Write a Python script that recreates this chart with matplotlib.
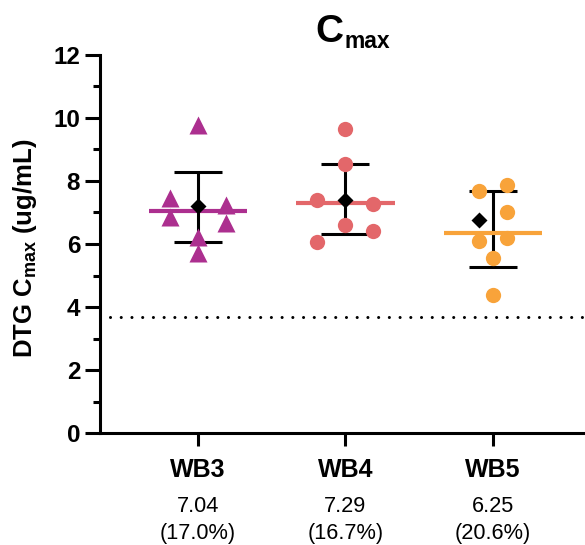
import matplotlib
matplotlib.use("Agg")
import matplotlib.pyplot as plt
from matplotlib.transforms import blended_transform_factory
import numpy as np

plt.rcParams['font.family'] = ['Liberation Sans', 'DejaVu Sans']
plt.rcParams['mathtext.fontset'] = 'custom'
plt.rcParams['mathtext.rm'] = 'Liberation Sans'
plt.rcParams['mathtext.bf'] = 'Liberation Sans:bold'
plt.rcParams['mathtext.it'] = 'Liberation Sans:italic'

# ---- data ----
groups = ["WB3", "WB4", "WB5"]
wb3_vals = [9.77, 7.47, 6.84, 7.25, 6.68, 6.23, 5.72]
wb4_vals = [9.63, 8.55, 7.38, 7.27, 6.61, 6.42, 6.05]
wb5_vals = [7.67, 7.86, 7.00, 6.11, 6.19, 5.56, 4.39]
wb3_side = [0, -1, -1, 1, 1, 0, 0]
wb4_side = [0, 0, -1, 1, 0, 1, -1]
wb5_side = [-1, 1, 1, -1, 1, 0, 0]
center_line = [7.06, 7.31, 6.34]
mean_vals = [7.19, 7.41, 6.77]
mean_side = [0, 0, -1]
err_low = [6.05, 6.32, 5.26]
err_high = [8.27, 8.54, 7.67]
gm_labels = ["7.04", "7.29", "6.25"]
cv_labels = ["(17.0%)", "(16.7%)", "(20.6%)"]
lloq = 3.70

colors = ["#AC2F8F", "#E3676A", "#F8A33A"]
markers = ["^", "o", "o"]
msizes = [12.5, 11, 11]
spreads = [0.19, 0.19, 0.096]

fig = plt.figure(figsize=(5.85, 5.45), dpi=100)
ax = fig.add_axes([100/585, (545-433.3)/545, 485/585, (433.3-54.7)/545])

all_vals = [wb3_vals, wb4_vals, wb5_vals]
all_side = [wb3_side, wb4_side, wb5_side]
xs = np.arange(len(groups))

# error bars
for i in range(len(groups)):
    mid = (err_low[i] + err_high[i]) / 2
    ax.errorbar(xs[i], mid,
                yerr=[[mid - err_low[i]], [err_high[i] - mid]],
                fmt='none', ecolor='black', elinewidth=2.2, capsize=17.5,
                capthick=2.2, zorder=2)

# points
for i in range(len(groups)):
    x = xs[i] + np.array(all_side[i]) * spreads[i]
    ax.plot(x, all_vals[i], linestyle='none', marker=markers[i],
            ms=msizes[i], color=colors[i], mec='none', zorder=3)

# center lines
for i in range(len(groups)):
    ax.hlines(center_line[i], xs[i] - 0.333, xs[i] + 0.333, color=colors[i],
              lw=3.0, zorder=4)

# mean diamonds
for i in range(len(groups)):
    ax.plot(xs[i] + mean_side[i] * spreads[i], mean_vals[i], marker='D',
            ms=8.3, color='black', mec='none', linestyle='none', zorder=5)

# dotted line
ax.axhline(lloq, xmin=0.0206, xmax=0.994, color='black', lw=2.2,
           linestyle=(0, (0.01, 3.5)), dash_capstyle='round', zorder=1)

ax.set_xlim(-0.664, 2.624)
ax.set_ylim(0, 12)
ax.set_yticks(np.arange(0, 13, 2))
ax.set_yticks(np.arange(1, 12, 2), minor=True)
ax.set_xticks(xs)
ax.set_xticklabels(groups, fontsize=18, fontweight='bold')
for lab in ax.get_yticklabels():
    lab.set_fontweight('bold')
ax.tick_params(axis='y', which='major', length=10.8, width=2.2, labelsize=17.5, pad=3.5)
ax.tick_params(axis='y', which='minor', length=5.2, width=2.2)
ax.tick_params(axis='x', which='major', length=9.5, width=2.2, pad=8.0)

for s in ['top', 'right']:
    ax.spines[s].set_visible(False)
for s in ['left', 'bottom']:
    ax.spines[s].set_linewidth(2.2)
ax.patch.set_visible(False)

# labels below categories
tr = blended_transform_factory(ax.transData, ax.transAxes)
for i in range(len(groups)):
    ax.text(xs[i], -(506 - 433.3) / 378.6, gm_labels[i], transform=tr,
            ha='center', va='center', fontsize=15.7)
    ax.text(xs[i], -(533 - 433.3) / 378.6, cv_labels[i], transform=tr,
            ha='center', va='center', fontsize=15.7)

# y label
fig.text(25/585, 1 - 248/545, r"DTG C$_{\mathbf{max}}$ (ug/mL)", rotation=90,
         ha='center', va='center', fontsize=18.5, fontweight='bold')

# title: C with subscript max
fig.text(343/585, 1 - 42/545, "C", fontsize=28, fontweight='bold',
         ha='right', va='baseline')
fig.text(344/585, 1 - 48/545, "max", fontsize=16.5, fontweight='bold',
         ha='left', va='baseline')

fig.savefig("out.png", dpi=100)
